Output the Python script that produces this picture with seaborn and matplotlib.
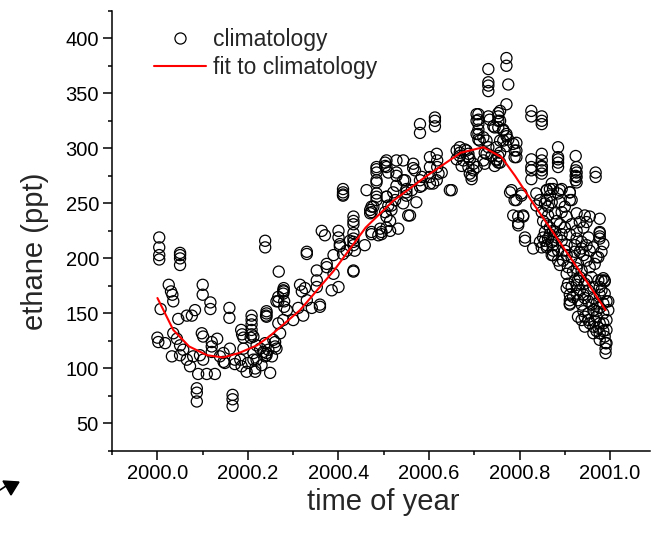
import matplotlib
matplotlib.use("Agg")
import matplotlib.pyplot as plt
from matplotlib.ticker import MultipleLocator, FormatStrFormatter
from matplotlib.patches import Polygon
from matplotlib.lines import Line2D
import numpy as np
import pandas as pd
import seaborn as sns

# climatology samples (time of year, ethane ppt)
clim_winter = [
    (2000.004, 219), (2000.004, 210), (2000.004, 203), (2000.004, 199),
    (2000.05, 205), (2000.05, 203), (2000.05, 200), (2000.05, 194),
    (2000.025, 176), (2000.03, 170), (2000.033, 167), (2000.035, 161), (2000.007, 154),
    (2000.10, 176), (2000.10, 167), (2000.117, 160), (2000.117, 154),
    (2000.083, 153), (2000.076, 148), (2000.065, 148), (2000.046, 145),
    (2000.159, 155), (2000.159, 146),
    (2000.208, 148), (2000.208, 144), (2000.208, 140), (2000.208, 135), (2000.208, 131), (2000.206, 128),
    (2000.185, 135), (2000.187, 131), (2000.19, 128), (2000.24, 148),
    (2000.000, 128), (2000.002, 124), (2000.017, 123),
    (2000.035, 132), (2000.043, 127), (2000.05, 121), (2000.057, 117), (2000.032, 111),
    (2000.05, 112), (2000.065, 108), (2000.072, 102), (2000.09, 95), (2000.109, 95), (2000.127, 95),
    (2000.098, 132), (2000.101, 129), (2000.12, 124), (2000.12, 120), (2000.132, 127), (2000.12, 115),
    (2000.094, 112), (2000.101, 108), (2000.079, 111),
    (2000.146, 114), (2000.16, 118), (2000.149, 105), (2000.171, 108), (2000.171, 104),
    (2000.146, 106), (2000.138, 111), (2000.183, 108), (2000.186, 102), (2000.197, 97),
    (2000.19, 118), (2000.212, 114), (2000.219, 108), (2000.216, 100), (2000.216, 97),
    (2000.23, 103), (2000.238, 111), (2000.241, 114),
    (2000.087, 82), (2000.087, 78), (2000.087, 70),
    (2000.166, 76), (2000.166, 72), (2000.166, 66),
    (2000.238, 216), (2000.238, 210),
    (2000.219, 121), (2000.227, 118), (2000.234, 115), (2000.241, 112), (2000.253, 111),
    (2000.245, 117), (2000.26, 120), (2000.249, 96), (2000.2, 105), (2000.212, 108),
]

clim_spring = [
    (2000.33, 206), (2000.33, 204), (2000.268, 188),
    (2000.279, 173), (2000.279, 170), (2000.28, 161), (2000.28, 156), (2000.267, 165), (2000.267, 161),
    (2000.241, 150), (2000.241, 147), (2000.267, 141), (2000.271, 132), (2000.26, 124),
    (2000.30, 144), (2000.311, 155), (2000.322, 148), (2000.315, 176), (2000.326, 173),
    (2000.319, 170), (2000.33, 162), (2000.341, 155), (2000.359, 156), (2000.352, 174),
    (2000.352, 180), (2000.352, 189), (2000.374, 192), (2000.374, 195), (2000.389, 186),
    (2000.40, 174), (2000.385, 171),
    (2000.363, 225), (2000.37, 221), (2000.40, 225), (2000.40, 219), (2000.403, 213),
    (2000.433, 218), (2000.433, 212), (2000.436, 207), (2000.41, 204), (2000.458, 212),
    (2000.433, 189), (2000.433, 231), (2000.473, 224), (2000.488, 221),
    (2000.389, 203), (2000.433, 234), (2000.41, 263), (2000.41, 260), (2000.41, 257),
    (2000.462, 262), (2000.484, 281), (2000.484, 278), (2000.484, 271), (2000.484, 256),
    (2000.503, 287), (2000.503, 284),
    (2000.433, 215), (2000.418, 207), (2000.403, 211), (2000.425, 216),
    (2000.47, 244), (2000.47, 241), (2000.477, 247), (2000.492, 227), (2000.473, 222),
    (2000.495, 222), (2000.506, 228), (2000.506, 238), (2000.506, 256), (2000.433, 188),
    (2000.359, 158), (2000.278, 144), (2000.241, 152), (2000.278, 171), (2000.278, 168),
    (2000.263, 161), (2000.286, 153), (2000.212, 129), (2000.238, 123), (2000.256, 126),
    (2000.263, 118), (2000.433, 238), (2000.484, 283), (2000.484, 269), (2000.484, 259),
    (2000.484, 253), (2000.41, 258), (2000.473, 247), (2000.473, 242), (2000.433, 223),
]

clim_summer = [
    (2000.731, 372), (2000.731, 360), (2000.731, 357), (2000.731, 352),
    (2000.771, 382), (2000.771, 375), (2000.771, 340), (2000.775, 358),
    (2000.58, 322), (2000.58, 314), (2000.613, 328), (2000.613, 325), (2000.613, 320),
    (2000.709, 331), (2000.709, 326), (2000.709, 322), (2000.709, 317), (2000.709, 313), (2000.709, 308),
    (2000.731, 329), (2000.734, 326), (2000.753, 332), (2000.753, 329), (2000.753, 325),
    (2000.742, 320), (2000.753, 319), (2000.764, 317), (2000.771, 311), (2000.764, 307),
    (2000.72, 310), (2000.727, 307), (2000.731, 301), (2000.723, 296), (2000.738, 293),
    (2000.749, 290), (2000.745, 284), (2000.753, 287), (2000.72, 289),
    (2000.661, 298), (2000.668, 301), (2000.679, 299), (2000.687, 295), (2000.69, 290),
    (2000.698, 286), (2000.698, 280), (2000.694, 275), (2000.694, 272), (2000.705, 283),
    (2000.687, 292), (2000.668, 293), (2000.676, 289), (2000.65, 262),
    (2000.602, 292), (2000.602, 283), (2000.617, 295), (2000.618, 289), (2000.618, 283),
    (2000.621, 277), (2000.617, 271), (2000.602, 268), (2000.628, 278), (2000.602, 274),
    (2000.565, 286), (2000.565, 282), (2000.584, 274), (2000.58, 265), (2000.562, 262),
    (2000.506, 289), (2000.528, 289), (2000.543, 289), (2000.528, 278), (2000.528, 275),
    (2000.506, 283), (2000.51, 278), (2000.547, 271), (2000.55, 263), (2000.55, 257),
    (2000.528, 266), (2000.521, 260), (2000.525, 253), (2000.506, 256), (2000.51, 248),
    (2000.503, 242), (2000.517, 244), (2000.572, 251), (2000.558, 239), (2000.532, 227),
    (2000.514, 225), (2000.495, 224), (2000.514, 234), (2000.543, 250), (2000.517, 248),
    (2000.569, 280), (2000.646, 262), (2000.668, 296), (2000.683, 298), (2000.69, 277),
    (2000.687, 283), (2000.672, 284), (2000.661, 290), (2000.554, 239), (2000.543, 271),
    (2000.55, 260), (2000.58, 271), (2000.584, 266), (2000.609, 268),
    (2000.705, 331), (2000.705, 325), (2000.705, 313), (2000.712, 307), (2000.745, 319),
    (2000.749, 301), (2000.753, 293), (2000.771, 313), (2000.786, 304), (2000.793, 298),
    (2000.793, 292), (2000.749, 289), (2000.727, 295), (2000.723, 286),
    (2000.757, 334), (2000.757, 325), (2000.764, 316), (2000.757, 307), (2000.775, 308),
    (2000.771, 302), (2000.793, 305), (2000.789, 298), (2000.789, 292), (2000.757, 296),
    (2000.757, 287),
]

clim_autumn = [
    (2000.826, 334), (2000.826, 329), (2000.849, 329), (2000.849, 322), (2000.849, 325),
    (2000.885, 301), (2000.885, 290), (2000.885, 283), (2000.924, 293), (2000.926, 283),
    (2000.968, 278), (2000.968, 274), (2000.926, 278), (2000.926, 274), (2000.926, 269),
    (2000.826, 290), (2000.826, 283), (2000.849, 295), (2000.849, 289), (2000.849, 283),
    (2000.849, 277), (2000.826, 272), (2000.826, 280), (2000.849, 284), (2000.849, 280),
    (2000.885, 292), (2000.885, 287), (2000.924, 280), (2000.924, 275), (2000.924, 271),
    (2000.782, 262), (2000.804, 259), (2000.793, 253), (2000.786, 239), (2000.808, 238),
    (2000.797, 232), (2000.812, 219),
    (2000.977, 236), (2000.977, 223), (2000.977, 220), (2000.977, 224), (2000.977, 218),
    (2000.871, 268), (2000.86, 262), (2000.889, 262), (2000.911, 260), (2000.911, 253),
    (2000.86, 253), (2000.863, 247), (2000.867, 263), (2000.893, 263),
    (2000.779, 260), (2000.789, 253), (2000.804, 257), (2000.797, 238), (2000.808, 239),
    (2000.797, 230), (2000.812, 216), (2000.83, 209),
    (2000.860, 262), (2000.874, 263), (2000.885, 259), (2000.867, 257), (2000.871, 251),
    (2000.856, 250), (2000.889, 251), (2000.911, 260), (2000.915, 253), (2000.900, 247),
    (2000.893, 242), (2000.878, 241), (2000.863, 239), (2000.882, 234), (2000.904, 238),
    (2000.926, 241), (2000.944, 239), (2000.933, 233), (2000.915, 231), (2000.900, 228),
    (2000.867, 228), (2000.856, 224), (2000.856, 216), (2000.871, 215), (2000.860, 210),
    (2000.882, 219), (2000.893, 222), (2000.911, 222), (2000.926, 225), (2000.941, 228),
    (2000.952, 219), (2000.937, 215), (2000.922, 212), (2000.904, 212), (2000.885, 207),
    (2000.874, 203), (2000.896, 198), (2000.915, 201), (2000.933, 206), (2000.955, 207),
    (2000.970, 201), (2000.948, 198), (2000.929, 195), (2000.907, 192), (2000.918, 188),
    (2000.937, 189), (2000.955, 192), (2000.974, 180), (2000.985, 182), (2000.977, 174),
    (2000.963, 174), (2000.948, 180), (2000.929, 180), (2000.915, 174), (2000.911, 167),
    (2000.911, 159), (2000.926, 168), (2000.941, 167), (2000.952, 171), (2000.937, 158),
    (2000.952, 161), (2000.963, 164), (2000.977, 167), (2000.988, 168), (2000.996, 161),
    (2000.977, 155), (2000.963, 153), (2000.941, 152), (2000.937, 144), (2000.952, 144),
    (2000.970, 147), (2000.985, 150), (2000.996, 153), (2000.977, 141), (2000.963, 138),
    (2000.955, 141), (2000.977, 132), (2000.988, 129), (2000.992, 123), (2000.970, 134),
    (2000.944, 138), (2000.929, 147), (2000.985, 141), (2000.988, 180), (2000.985, 213),
    (2000.981, 206), (2000.955, 238), (2000.948, 233), (2000.889, 231), (2000.878, 224),
    (2000.926, 218), (2000.845, 215), (2000.874, 225),
    (2000.849, 242), (2000.852, 234), (2000.860, 231), (2000.867, 222), (2000.863, 218),
    (2000.874, 212), (2000.893, 216), (2000.900, 207), (2000.885, 198), (2000.889, 194),
    (2000.904, 203), (2000.922, 206), (2000.941, 203), (2000.937, 209), (2000.948, 212),
    (2000.963, 210), (2000.966, 195), (2000.926, 191), (2000.904, 186), (2000.933, 183),
    (2000.944, 177), (2000.959, 183), (2000.922, 180), (2000.907, 177), (2000.926, 176),
    (2000.933, 171), (2000.918, 165), (2000.929, 162), (2000.944, 164), (2000.959, 158),
    (2000.970, 159), (2000.985, 159), (2000.970, 152), (2000.952, 150), (2000.944, 147),
    (2000.966, 143), (2000.974, 137), (2000.985, 134), (2000.977, 126), (2000.963, 132),
    (2000.992, 144), (2000.992, 135), (2000.837, 248), (2000.845, 253), (2000.837, 259),
    (2000.99, 123), (2000.99, 118), (2000.99, 114), (2000.911, 162), (2000.911, 158),
    (2000.904, 173), (2000.981, 180), (2000.988, 179), (2000.981, 171), (2000.992, 161),
    (2000.852, 219), (2000.86, 212), (2000.871, 203), (2000.874, 207), (2000.849, 210),
    (2000.974, 201),
]

# fitted seasonal curve
fit_time = [2000.00, 2000.035, 2000.07, 2000.11, 2000.145, 2000.18, 2000.22, 2000.25,
            2000.315, 2000.39, 2000.46, 2000.52, 2000.595, 2000.67, 2000.72, 2000.76,
            2000.79, 2000.83, 2000.87, 2000.905, 2000.95, 2000.99]
fit_ethane = [164, 135, 120, 112, 110, 114, 121, 130,
              153, 189, 228, 252, 275, 296, 301, 292,
              275, 250, 226, 205, 178, 153]

pts = clim_winter + clim_spring + clim_summer + clim_autumn
df = pd.DataFrame(pts, columns=["time", "ethane"])
fit = pd.DataFrame({"time": fit_time, "ethane": fit_ethane})

sns.set_style("ticks")
plt.rcParams["font.family"] = ["Liberation Sans", "DejaVu Sans"]

fig = plt.figure(figsize=(6.54, 5.34), dpi=100)
ax = fig.add_axes([0.1708, 0.1554, 0.823, 0.8245])

sns.scatterplot(data=df, x="time", y="ethane", ax=ax, marker="o", s=64,
                facecolor="none", edgecolor="black", linewidth=0.9, zorder=2)
sns.lineplot(data=fit, x="time", y="ethane", ax=ax, color="red", lw=1.5,
             zorder=3, sort=False)

ax.set_xlim(1999.899, 2001.088)
ax.set_ylim(25, 425)
ax.xaxis.set_minor_locator(MultipleLocator(0.1))
ax.xaxis.set_major_formatter(FormatStrFormatter("%.1f"))
ax.yaxis.set_major_locator(MultipleLocator(50))
ax.yaxis.set_minor_locator(MultipleLocator(25))
ax.set_xticks([2000.0, 2000.2, 2000.4, 2000.6, 2000.8, 2001.0])
ax.set_yticks([50, 100, 150, 200, 250, 300, 350, 400])

for s in ["top", "right"]:
    ax.spines[s].set_visible(False)
for s in ["left", "bottom"]:
    ax.spines[s].set_linewidth(1.1)
    ax.spines[s].set_color("black")

ax.tick_params(which="major", direction="out", length=6.2, width=1.1,
               labelsize=14.5, pad=3, colors="black")
ax.tick_params(which="minor", direction="out", length=3.1, width=1.1, colors="black")

ax.set_xlabel("time of year", fontsize=21)
ax.set_ylabel("ethane (ppt)", fontsize=21)
ax.xaxis.set_label_coords(0.504, -0.084)
ax.yaxis.set_label_coords(-0.1165, 0.453)

handles = [
    Line2D([], [], marker="o", ls="none", mfc="none", mec="black", ms=8, mew=0.9),
    Line2D([], [], color="red", lw=1.5),
]
ax.legend(handles, ["climatology", "fit to climatology"], loc="upper left",
          bbox_to_anchor=(0.078, 0.96), frameon=False, fontsize=16.5,
          handlelength=2.3, handletextpad=0.3, labelspacing=0.2, borderpad=0,
          borderaxespad=0)

# small arrow mark in the lower-left corner
tri = Polygon([(3 / 654, 1 - 481 / 534), (19 / 654, 1 - 482 / 534), (11 / 654, 1 - 495 / 534)],
              closed=True, transform=fig.transFigure, color="black")
fig.patches.append(tri)
fig.lines.append(Line2D([0, 6 / 654], [1 - 490 / 534, 1 - 486 / 534],
                        transform=fig.transFigure, color="black", lw=1.2))

fig.savefig("out.png", dpi=100)
